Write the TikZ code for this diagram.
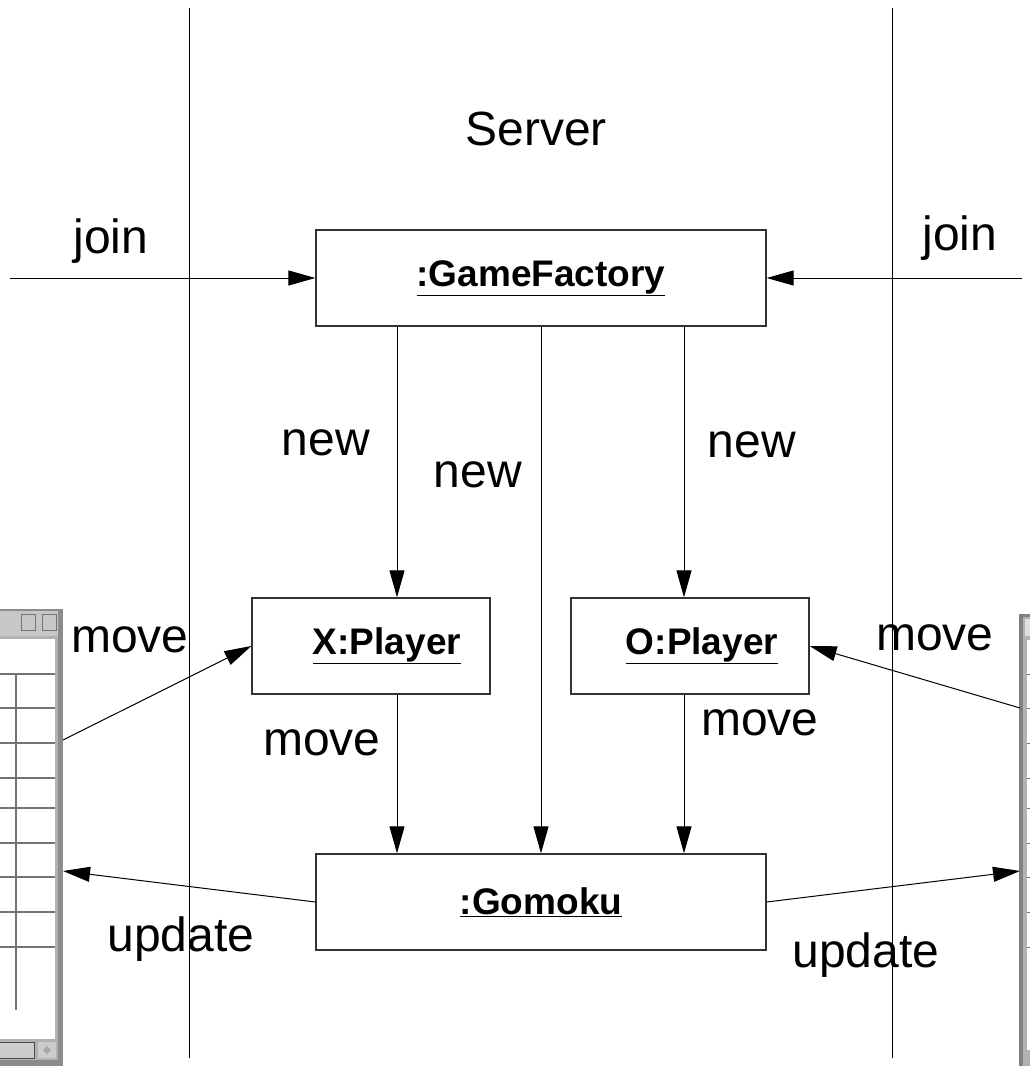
\documentclass[tikz,border=0pt]{standalone}
\usepackage{fontspec}
\setmainfont{Liberation Sans}
\usetikzlibrary{arrows.meta}
\begin{document}
\begin{tikzpicture}[x=1pt,y=-1pt,
  obj/.style={draw=black!80, line width=1.3pt, minimum height=96pt, inner sep=0pt,
    font=\fontsize{37}{40}\selectfont\bfseries},
  wide/.style={obj, minimum width=450pt},
  narrow/.style={obj, minimum width=238pt},
  msg/.style={font=\fontsize{48}{50}\selectfont, anchor=base, inner sep=0pt},
  arr/.style={-{Triangle[length=27pt,width=15pt]}, line width=1pt},
  lane/.style={line width=1pt},
  winframe/.style={fill=black!45, draw=none},
  wingrid/.style={draw=black!55, line width=1.2pt},
]
\useasboundingbox[fill=white] (0,0) rectangle (1030,1066);

% swimlane separators
\coordinate (l1) at (189,8);  \coordinate (l2) at (189,1058);
\coordinate (r1) at (892,8);  \coordinate (r2) at (892,1058);
\draw[lane] (l1) -- (l2);
\draw[lane] (r1) -- (r2);

% left client window (partially visible)
\fill[winframe] (-5,609) rectangle (63,1066);
\fill[black!22] (0,611) rectangle (58,636);
\draw[black!55, line width=1pt] (21,614) rectangle (35,630);
\draw[black!55, line width=1pt] (42,614) rectangle (56,630);
\fill[black!30] (-5,636) rectangle (58,1060);
\fill[white] (0,639) rectangle (55,1039);
\draw[wingrid] (0,674) -- (55,674);
\foreach \yy in {708,743,778,808,843,877,912,947} \draw[wingrid] (0,\yy) -- (55,\yy);
\draw[wingrid] (16,674) -- (16,1010);
\draw[black!70, fill=black!20, line width=1pt] (-2,1042) rectangle (34,1058);
\fill[black!20] (38,1042) rectangle (56,1058);
\fill[black!35] (47,1046) -- (51,1050) -- (47,1054) -- (43,1050) -- cycle;
\coordinate (lwa) at (63,740);
\coordinate (lwb) at (63,871);

% right client window (partially visible)
\fill[black!50] (1019,614) rectangle (1035,1066);
\fill[black!30] (1023,617) rectangle (1035,1066);
\fill[black!12] (1025,619) rectangle (1035,636);
\fill[white] (1027,640) rectangle (1035,1050);
\foreach \yy in {674,708,743,778,808,843,877,912,947} \draw[black!55, line width=1pt] (1027,\yy) -- (1035,\yy);
\coordinate (rwa) at (1020,708);
\coordinate (rwb) at (1020,871);

% objects
\node[wide]   (gf) at (541,278) {\underline{:GameFactory}};
\node[narrow] (xp) at (371,646) {\hspace*{32pt}\underline{X:Player}};
\node[narrow] (op) at (690,646) {\hspace*{24pt}\underline{O:Player}};
\node[wide]   (gm) at (541,902) {\underline{:Gomoku}};

% free ends of join messages
\coordinate (jl) at (10,278);
\coordinate (jr) at (1022,278);

% connectors
\draw[arr] (jl) -- (gf.west);
\draw[arr] (jr) -- (gf.east);
\draw[arr] ([xshift=-144pt]gf.south) -- ([xshift=26pt]xp.north);
\draw[arr] (gf.south) -- (gm.north);
\draw[arr] ([xshift=143pt]gf.south) -- ([xshift=-6pt]op.north);
\draw[arr] ([xshift=26pt]xp.south) -- ([xshift=-144pt]gm.north);
\draw[arr] ([xshift=-6pt]op.south) -- ([xshift=143pt]gm.north);
\draw[arr] (lwa) -- (xp.west);
\draw[arr] (rwa) -- (op.east);
\draw[arr] (gm.west) -- (lwb);
\draw[arr] (gm.east) -- (rwb);

% labels
\node[msg] (server) at (536,145) {Server};
\node[msg] (joinl) at (111,253) {join};
\node[msg] (joinr) at (960,250) {join};
\node[msg] (new1) at (326,455) {new};
\node[msg] (new2) at (478,487) {new};
\node[msg] (new3) at (752,457) {new};
\node[msg] (mv1) at (130,652) {move};
\node[msg] (mv2) at (935,650) {move};
\node[msg] (mv3) at (322,755) {move};
\node[msg] (mv4) at (760,735) {move};
\node[msg] (up1) at (181,951) {update};
\node[msg] (up2) at (866,967) {update};
\end{tikzpicture}
\end{document}
